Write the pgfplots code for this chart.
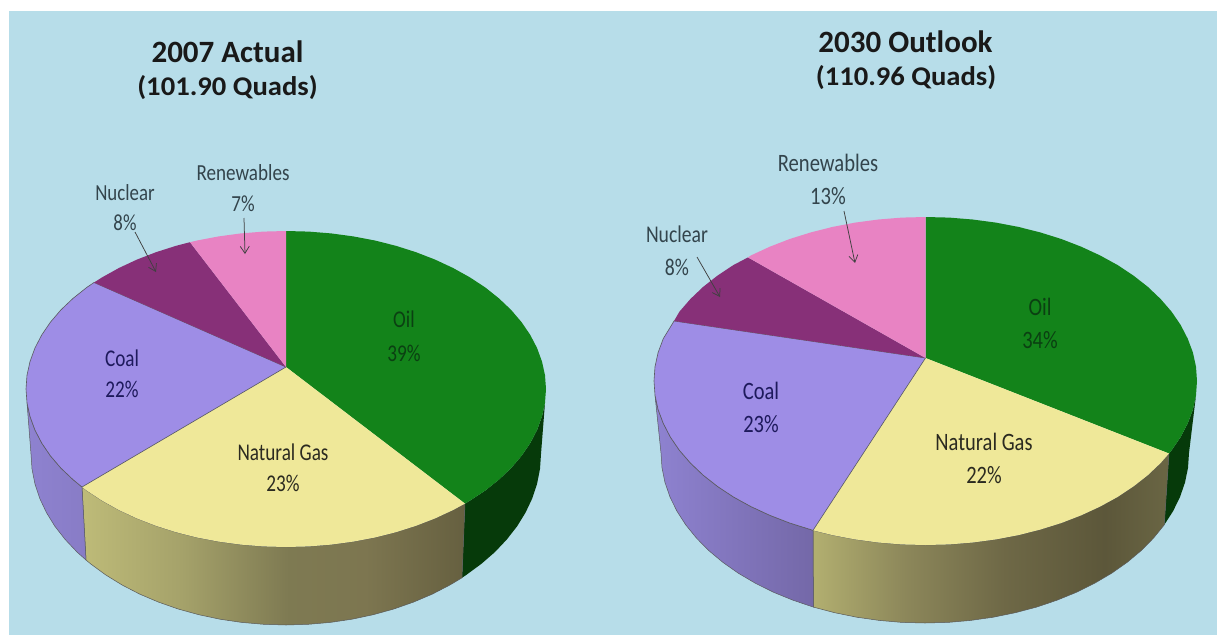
\documentclass[border=0pt]{standalone}
\usepackage{pgfplots}
\pgfplotsset{compat=1.18}
\usepackage{fontspec}
\setmainfont{Carlito}
\usetikzlibrary{arrows.meta}

\definecolor{sky}{HTML}{B7DDE9}
\definecolor{oil}{HTML}{13831A}
\definecolor{oilside}{HTML}{063A0A}
\definecolor{gas}{HTML}{EFE899}
\definecolor{coal}{HTML}{9E8DE6}
\definecolor{nuclear}{HTML}{873078}
\definecolor{renew}{HTML}{E883C3}
\definecolor{edgegray}{HTML}{5A5A60}
\definecolor{inkgreen}{HTML}{0B4012}
\definecolor{inknavy}{HTML}{1E1A5C}
\definecolor{inkgas}{HTML}{2B2A20}
\definecolor{inksky}{HTML}{33444C}

% Side walls of the two pies, lit from the left
\pgfdeclarehorizontalshading{gasleft}{100bp}{
  rgb(0bp)=(.745,.733,.471);
  rgb(25bp)=(.745,.733,.471);
  rgb(38bp)=(.647,.635,.416);
  rgb(52bp)=(.494,.478,.322);
  rgb(62bp)=(.490,.463,.314);
  rgb(75bp)=(.400,.376,.251);
  rgb(100bp)=(.400,.376,.251)}
\pgfdeclarehorizontalshading{gasright}{100bp}{
  rgb(0bp)=(.698,.686,.439);
  rgb(25bp)=(.698,.686,.439);
  rgb(38bp)=(.549,.529,.353);
  rgb(52bp)=(.431,.408,.275);
  rgb(66bp)=(.361,.341,.227);
  rgb(75bp)=(.416,.400,.267);
  rgb(100bp)=(.416,.400,.267)}
\pgfdeclarehorizontalshading{coalleft}{100bp}{
  rgb(0bp)=(.557,.510,.816);
  rgb(25bp)=(.557,.510,.816);
  rgb(75bp)=(.533,.486,.776);
  rgb(100bp)=(.533,.486,.776)}
\pgfdeclarehorizontalshading{coalright}{100bp}{
  rgb(0bp)=(.557,.510,.816);
  rgb(25bp)=(.557,.510,.816);
  rgb(75bp)=(.455,.408,.659);
  rgb(100bp)=(.455,.408,.659)}

% Slice caption, horizontally condensed: x, y, size, stretch, colour, text
\newcommand{\lbl}[6]{\node[inner sep=0pt,text=#5] at (axis cs:#1,#2)
  {\scalebox{#4}[1]{\fontsize{#3}{#3}\selectfont #6}};}
% Heading: x, y, size, stretch, text
\newcommand{\ttl}[5]{\node[inner sep=0pt,text=black!90] at (axis cs:#1,#2)
  {\scalebox{#4}[1]{\fontsize{#3}{#3}\selectfont\bfseries #5}};}
\tikzset{callout/.style={draw=black!75,line width=.75pt,-{Straight Barb[length=7pt,width=9pt]}}}

\begin{document}
\begin{tikzpicture}
\begin{axis}[
  scale only axis, width=1219pt, height=635pt,
  xmin=0, xmax=1219, ymin=0, ymax=635, y dir=reverse,
  hide axis, clip=false]

% Panel
\addplot[fill=white,draw=none] coordinates {(0,0)(1219,0)(1219,635)(0,635)} --cycle;
\addplot[fill=sky,draw=none] coordinates {(9,11)(1217,11)(1217,635)(9,635)} --cycle;

%% ---- 2007 ----
% Oil, side wall
\addplot[fill=oilside,draw=none] coordinates {
 (465,503.6)(469.8,500.7)(485.2,490.6)(499,479.6)(511.2,468)(521.6,455.8)(530.3,443)(537.1,429.9)(542,416.4)(545,402.8)
 (541,454)(540,468.9)(537.1,483.7)(532.3,498.3)(525.6,512.5)(517.1,526.3)(506.8,539.5)(494.9,552.1)(481.3,563.9)(466.3,574.9)(462,577.8)} --cycle;
% Natural gas, side wall
\addplot[shade,shading=gasleft,draw=black!65,line width=.5pt] coordinates {
 (82,487)(86.8,490.6)(102.2,500.7)(118.9,510)(136.9,518.4)(156,525.8)(176.1,532.2)(197.1,537.5)(218.7,541.6)(240.9,544.6)(263.3,546.4)(286,547)
 (308.7,546.4)(331.1,544.6)(353.3,541.6)(374.9,537.5)(395.9,532.2)(416,525.8)(435.1,518.4)(453.1,510)(465,503.6)
 (462,577.8)(449.9,585)(432.3,594.1)(413.5,602.1)(393.8,609)(373.2,614.7)(352,619.2)(330.3,622.4)(308.2,624.3)(286,625)
 (263.8,624.3)(241.7,622.4)(220,619.2)(198.8,614.7)(178.2,609)(158.5,602.1)(139.7,594.1)(122.1,585)(105.7,574.9)(90.7,563.9)(86,560)} --cycle;
% Coal, side wall
\addplot[shade,shading=coalleft,draw=edgegray,line width=.5pt] coordinates {
 (82,487)(73,479.6)(60.8,468)(50.4,455.8)(41.7,443)(34.9,429.9)(30,416.4)(27,402.8)
 (31,454)(32,468.9)(34.9,483.7)(39.7,498.3)(46.4,512.5)(54.9,526.3)(65.2,539.5)(77.1,552.1)(86,560)} --cycle;

% Top face
\addplot[fill=oil,draw=none] coordinates {
 (286,367)(286,231)(308.7,231.6)(331.1,233.4)(353.3,236.4)(374.9,240.5)(395.9,245.8)(416,252.2)(435.1,259.6)(453.1,268)(469.8,277.3)
 (485.2,287.4)(499,298.4)(511.2,310)(521.6,322.2)(530.3,335)(537.1,348.1)(542,361.6)(545,375.2)(546,389)(545,402.8)(542,416.4)
 (537.1,429.9)(530.3,443)(521.6,455.8)(511.2,468)(499,479.6)(485.2,490.6)(469.8,500.7)(465,503.6)} --cycle;
\addplot[fill=gas,draw=none] coordinates {
 (286,367)(465,503.6)(453.1,510)(435.1,518.4)(416,525.8)(395.9,532.2)(374.9,537.5)(353.3,541.6)(331.1,544.6)(308.7,546.4)(286,547)
 (263.3,546.4)(240.9,544.6)(218.7,541.6)(197.1,537.5)(176.1,532.2)(156,525.8)(136.9,518.4)(118.9,510)(102.2,500.7)(86.8,490.6)(82,487)} --cycle;
\addplot[fill=coal,draw=edgegray,line width=.6pt] coordinates {
 (286,367)(82,487)(73,479.6)(60.8,468)(50.4,455.8)(41.7,443)(34.9,429.9)(30,416.4)(27,402.8)(26,389)(27,375.2)(30,361.6)(34.9,348.1)
 (41.7,335)(50.4,322.2)(60.8,310)(73,298.4)(86.8,287.4)(94,282.5)} --cycle;
\addplot[fill=nuclear,draw=none] coordinates {
 (286,367)(94,282.5)(102.2,277.3)(118.9,268)(136.9,259.6)(156,252.2)(176.1,245.8)(190,242.2)} --cycle;
\addplot[fill=renew,draw=none] coordinates {
 (286,367)(190,242.2)(197.1,240.5)(218.7,236.4)(240.9,233.4)(263.3,231.6)(286,231)} --cycle;

% Callout arrows
\addplot[callout] coordinates {(135,232)(156,272)};
\addplot[callout] coordinates {(244,218)(245,254)};

\ttl{227.5}{52}{31}{1}{2007 Actual}
\ttl{227.5}{88}{27}{1.06}{(101.90 Quads)}
\lbl{125}{193}{23}{.82}{inksky}{Nuclear}
\lbl{125}{223}{23}{.82}{inksky}{8\%}
\lbl{243}{173}{23}{.83}{inksky}{Renewables}
\lbl{243}{204}{23}{.83}{inksky}{7\%}
\lbl{404}{319}{24}{.8}{inkgreen}{Oil}
\lbl{404}{353}{24}{.8}{inkgreen}{39\%}
\lbl{122}{358}{24}{.8}{inknavy}{Coal}
\lbl{122}{389}{24}{.8}{inknavy}{22\%}
\lbl{283}{452}{24}{.8}{inkgas}{Natural Gas}
\lbl{283}{483}{24}{.8}{inkgas}{23\%}

%% ---- 2030 ----
% Oil, side wall
\addplot[fill=oilside,draw=none] coordinates {
 (1169,453.5)(1171.6,450.3)(1180.6,437.1)(1187.7,423.4)(1192.9,409.5)(1196,395.3)
 (1189,453)(1188,467.8)(1185,482.5)(1180,497)(1173.1,511.1)(1164.3,524.8)} --cycle;
% Natural gas, side wall
\addplot[shade,shading=gasright,draw=black!65,line width=.5pt] coordinates {
 (813,530.3)(832.6,535.1)(855.2,539.4)(878.4,542.5)(901.8,544.4)(925.5,545)(949.2,544.4)(972.6,542.5)(995.8,539.4)(1018.4,535.1)
 (1040.2,529.6)(1061.3,523)(1081.2,515.3)(1100,506.6)(1117.5,497)(1133.5,486.4)(1147.9,475.1)(1160.6,463)(1169,453.5)
 (1164.3,524.8)(1153.6,538)(1141.3,550.5)(1127.2,562.3)(1111.7,573.2)(1094.7,583.2)(1076.4,592.3)(1057,600.2)(1036.6,607.1)
 (1015.3,612.7)(993.3,617.2)(970.8,620.4)(948,622.4)(925,623)(902,622.4)(879.2,620.4)(856.7,617.2)(834.7,612.7)(813.4,607.1)} --cycle;
% Coal, side wall
\addplot[shade,shading=coalright,draw=edgegray,line width=.5pt] coordinates {
 (813,530.3)(789.7,523)(769.8,515.3)(751,506.6)(733.5,497)(717.5,486.4)(703.1,475.1)(690.4,463)(679.4,450.3)(670.4,437.1)(663.3,423.4)(658.1,409.5)(655,395.3)
 (661,453)(662,467.8)(665,482.5)(670,497)(676.9,511.1)(685.7,524.8)(696.4,538)(708.7,550.5)(722.8,562.3)(738.3,573.2)(755.3,583.2)(773.6,592.3)(793,600.2)(813.4,607.1)} --cycle;

% Top face
\addplot[fill=oil,draw=none] coordinates {
 (925.5,358)(925.5,217)(949.2,217.6)(972.6,219.5)(995.8,222.6)(1018.4,226.9)(1040.2,232.4)(1061.3,239)(1081.2,246.7)(1100,255.4)(1117.5,265)
 (1133.5,275.6)(1147.9,286.9)(1160.6,299)(1171.6,311.7)(1180.6,324.9)(1187.7,338.6)(1192.9,352.5)(1196,366.7)(1197,381)(1196,395.3)
 (1192.9,409.5)(1187.7,423.4)(1180.6,437.1)(1171.6,450.3)(1169,453.5)} --cycle;
\addplot[fill=gas,draw=none] coordinates {
 (925.5,358)(1169,453.5)(1160.6,463)(1147.9,475.1)(1133.5,486.4)(1117.5,497)(1100,506.6)(1081.2,515.3)(1061.3,523)(1040.2,529.6)(1018.4,535.1)
 (995.8,539.4)(972.6,542.5)(949.2,544.4)(925.5,545)(901.8,544.4)(878.4,542.5)(855.2,539.4)(832.6,535.1)(813,530.3)} --cycle;
\addplot[fill=coal,draw=edgegray,line width=.6pt] coordinates {
 (925.5,358)(813,530.3)(789.7,523)(769.8,515.3)(751,506.6)(733.5,497)(717.5,486.4)(703.1,475.1)(690.4,463)(679.4,450.3)(670.4,437.1)(663.3,423.4)
 (658.1,409.5)(655,395.3)(654,381)(655,366.7)(658.1,352.5)(663.3,338.6)(670.4,327)(674,321)} --cycle;
\addplot[fill=nuclear,draw=none] coordinates {
 (925.5,358)(674,321)(679.4,311.7)(690.4,299)(703.1,286.9)(717.5,275.6)(733.5,265)(748,257.4)} --cycle;
\addplot[fill=renew,draw=none] coordinates {
 (925.5,358)(748,257.4)(751,255.4)(769.8,246.7)(789.7,239)(810.8,232.4)(832.6,226.9)(855.2,222.6)(878.4,219.5)(901.8,217.6)(925.5,217)} --cycle;

% Callout arrows
\addplot[callout] coordinates {(697,257)(720,297)};
\addplot[callout] coordinates {(844,211)(855,263)};

\ttl{905.5}{42}{31}{1}{2030 Outlook}
\ttl{906}{78}{27}{1.06}{(110.96 Quads)}
\lbl{828}{163}{25}{.825}{inksky}{Renewables}
\lbl{828}{196}{25}{.825}{inksky}{13\%}
\lbl{677}{234}{24}{.82}{inksky}{Nuclear}
\lbl{677}{267}{24}{.82}{inksky}{8\%}
\lbl{1040}{307}{25}{.82}{inkgreen}{Oil}
\lbl{1040}{340}{25}{.82}{inkgreen}{34\%}
\lbl{761}{391}{25}{.82}{inknavy}{Coal}
\lbl{761}{424}{25}{.82}{inknavy}{23\%}
\lbl{984}{442}{25}{.82}{inkgas}{Natural Gas}
\lbl{984}{475}{25}{.82}{inkgas}{22\%}
\end{axis}
\end{tikzpicture}
\end{document}
